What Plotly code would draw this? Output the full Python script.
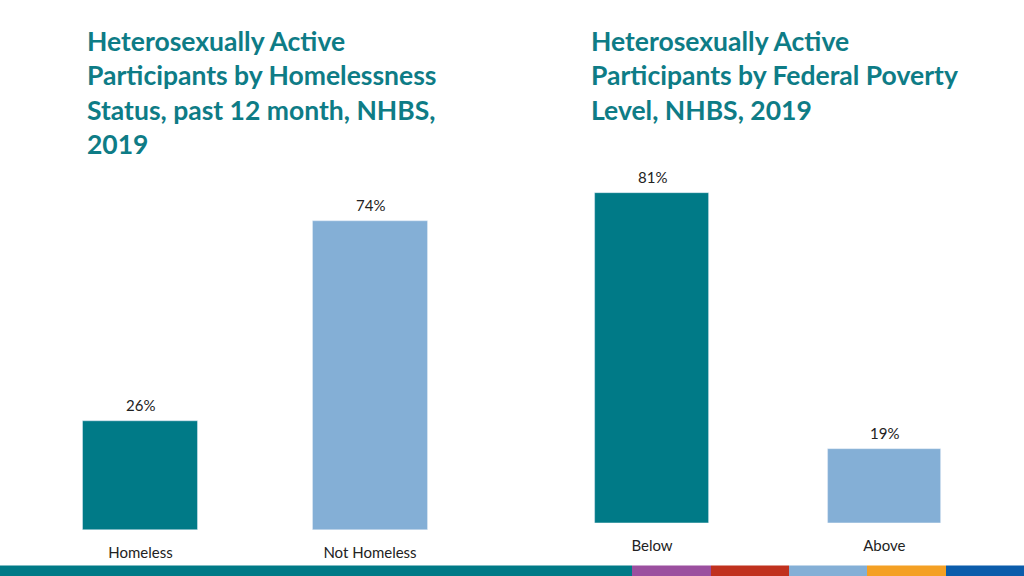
import plotly.graph_objects as go

# Data
homeless_cats = ["Homeless", "Not Homeless"]
homeless_vals = [26, 74]
poverty_cats = ["Below", "Above"]
poverty_vals = [81, 19]
bar_colors = ["#007A87", "#84AFD6"]

title_left = "Heterosexually Active<br>Participants by Homelessness<br>Status, past 12 month, NHBS,<br>2019"
title_right = "Heterosexually Active<br>Participants by Federal Poverty<br>Level, NHBS, 2019"

stripe_colors = ["#007A87", "#9B4F9F", "#C0311E", "#84AFD6", "#F4A024", "#0B5CAB"]
stripe_edges = [0, 632, 711, 789, 867, 946, 1024]

W, H = 1024, 576
TEAL = "#0E7C86"
FONT = "Lato"

fig = go.Figure()
fig.add_trace(go.Bar(x=homeless_cats, y=homeless_vals, marker_color=bar_colors,
                     width=0.5, xaxis="x", yaxis="y", showlegend=False))
fig.add_trace(go.Bar(x=poverty_cats, y=poverty_vals, marker_color=bar_colors,
                     width=0.49, xaxis="x2", yaxis="y2", showlegend=False))

ann = []
for c, v in zip(homeless_cats, homeless_vals):
    ann.append(dict(x=c, y=v, xref="x", yref="y", text=f"{v}%", showarrow=False,
                    yanchor="bottom", yshift=5, font=dict(family=FONT, size=15, color="#222222")))
for c, v in zip(poverty_cats, poverty_vals):
    ann.append(dict(x=c, y=v, xref="x2", yref="y2", text=f"{v}%", showarrow=False,
                    yanchor="bottom", yshift=5, font=dict(family=FONT, size=15, color="#222222")))

ann.append(dict(x=85 / W, y=1 - 23 / H, xref="paper", yref="paper", xanchor="left", yanchor="top",
                align="left", showarrow=False, text="<b>" + title_left + "</b>",
                font=dict(family=FONT, size=26.5, color=TEAL)))
ann.append(dict(x=589 / W, y=1 - 23 / H, xref="paper", yref="paper", xanchor="left", yanchor="top",
                align="left", showarrow=False, text="<b>" + title_right + "</b>",
                font=dict(family=FONT, size=26.5, color=TEAL)))

shapes = []
for i, col in enumerate(stripe_colors):
    shapes.append(dict(type="rect", xref="paper", yref="paper",
                       x0=stripe_edges[i] / W, x1=stripe_edges[i + 1] / W,
                       y0=0, y1=(576 - 565.5) / H, fillcolor=col, line_width=0, layer="above"))

axis_common = dict(showgrid=False, zeroline=False, showline=False, ticks="",
                   ticklabelstandoff=12,
                   tickfont=dict(family=FONT, size=15, color="#222222"), fixedrange=True)

fig.update_layout(
    width=W, height=H,
    margin=dict(l=0, r=0, t=0, b=0),
    paper_bgcolor="white", plot_bgcolor="white",
    bargap=0,
    xaxis=dict(domain=[25.75 / W, 484.75 / W], range=[-0.5, 1.5], anchor="y", **axis_common),
    yaxis=dict(domain=[(576 - 530) / H, (576 - 112) / H], range=[0, 100], visible=False),
    xaxis2=dict(domain=[535.85 / W, 1000.45 / W], range=[-0.5, 1.5], anchor="y2", **axis_common),
    yaxis2=dict(domain=[(576 - 522.7) / H, (576 - 114.9) / H], range=[1.2, 100], visible=False),
    annotations=ann,
    shapes=shapes,
)

fig.write_html("out.html", config={"displayModeBar": False},
               post_script="document.body.style.margin='0';document.body.style.overflow='hidden';")
